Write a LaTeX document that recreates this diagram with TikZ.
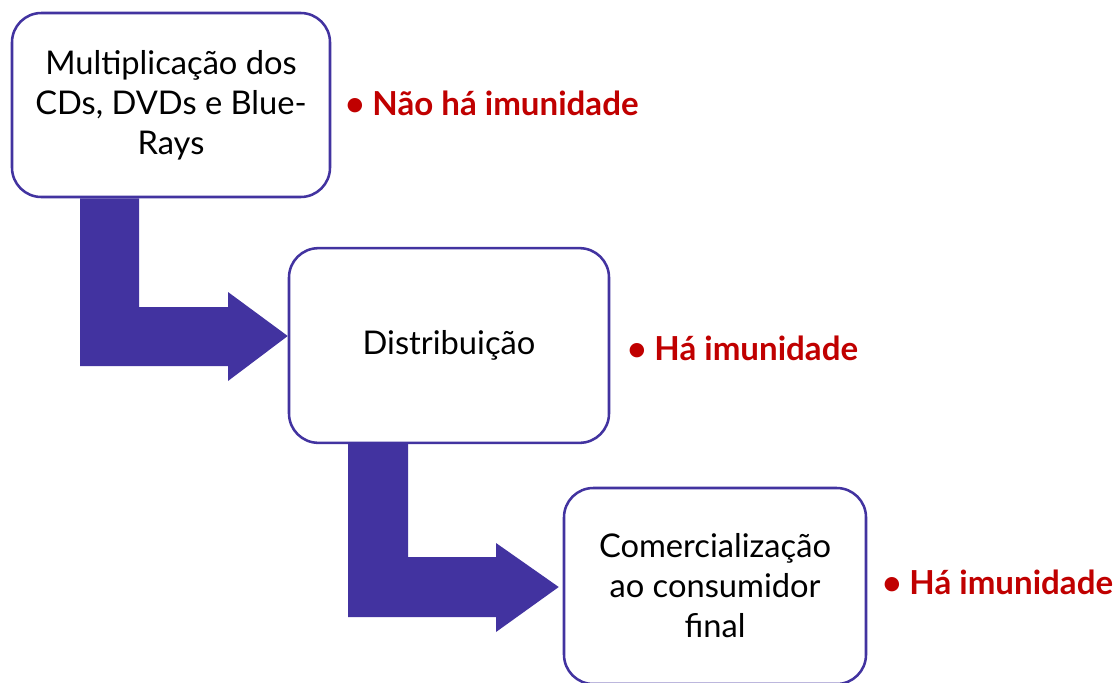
\documentclass[tikz,border=0pt]{standalone}
\usepackage{fontspec}
\setmainfont{Lato}
\usepackage{tikz}
\usetikzlibrary{positioning, calc}
\definecolor{flowblue}{HTML}{4233A0}
\definecolor{notered}{HTML}{C00000}
\tikzset{
    stage/.style={rectangle, draw=flowblue, line width=1.9pt, fill=white, rounded corners=22pt, text centered, align=center, font=\fontsize{24.5}{30}\selectfont, inner sep=0pt},
    note/.style={anchor=west, text=notered, font=\fontsize{24.8}{28}\selectfont\bfseries, inner sep=0pt},
    flow/.style={fill=flowblue}
}

\begin{document}
\begin{tikzpicture}[x=0.75pt, y=-0.75pt]
    \useasboundingbox (0,0) rectangle (1113,682);
    % Stages
    \node (mult) [stage, minimum width=238.5pt, minimum height=138pt] at (171,105) {Multiplicação dos\\CDs, DVDs e Blue-\\Rays};
    \node (dist) [stage, minimum width=240pt, minimum height=146pt] at (449,345.5) {Distribuição};
    \node (com) [stage, minimum width=226.5pt, minimum height=147pt] at (715,586) {Comercialização\\ao consumidor\\final};
    % Notes
    \node (mult_note) [note] at (345,103) {• Não há imunidade};
    \node (dist_note) [note] at (627,348) {• Há imunidade};
    \node (com_note) [note] at (882,582) {• Há imunidade};
    % Arrows
    \fill [flow] (80,0 |- mult.south) -- (139,0 |- mult.south) -- (139,307) -- (228,307) -- (228,292)
        -- (dist.west |- 0,336) -- (228,381) -- (228,366) -- (80,366) -- cycle;
    \fill [flow] (348,0 |- dist.south) -- (408,0 |- dist.south) -- (408,557) -- (496,557) -- (496,543)
        -- ($(com.west |- 0,587)+(-4,0)$) -- (496,632) -- (496,617) -- (348,617) -- cycle;
\end{tikzpicture}
\end{document}
